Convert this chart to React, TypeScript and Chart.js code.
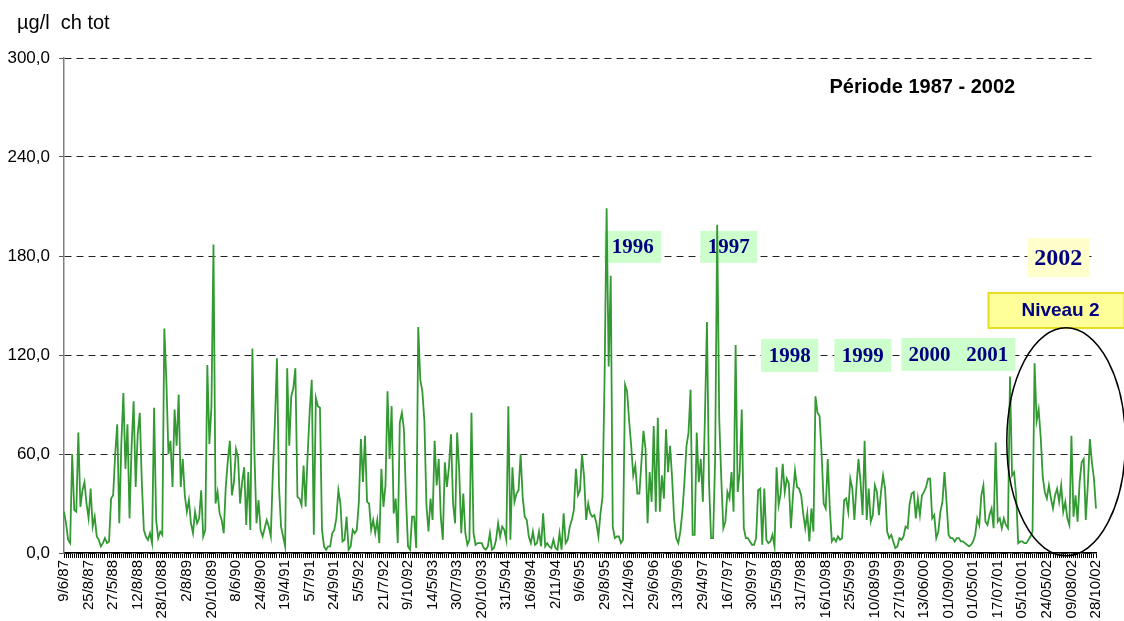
import React, { useEffect, useRef } from 'react';
import { Chart, registerables } from 'chart.js';

Chart.register(...registerables);

// Tick labels shown on the x axis (one every 12 samples)
const tickLabels = [
  '9/6/87', '25/8/87', '27/5/88', '12/8/88', '28/10/88', '2/8/89', '20/10/89', '8/6/90',
  '24/8/90', '19/4/91', '5/7/91', '24/9/91', '5/5/92', '21/7/92', '9/10/92', '14/5/93',
  '30/7/93', '20/10/93', '31/5/94', '16/8/94', '2/11/94', '9/6/95', '29/8/95', '12/4/96',
  '29/6/96', '13/9/96', '29/4/97', '16/7/97', '30/9/97', '15/5/98', '31/7/98', '16/10/98',
  '25/5/99', '10/08/99', '27/10/99', '13/06/00', '01/09/00', '01/05/01', '17/07/01', '05/10/01',
  '24/05/02', '09/08/02', '28/10/02',
];
const labelEvery = 12;

// Chlorophylle totale (µg/l), one value per sample
const concentration = [
  25, 18, 8, 6, 60, 26, 25, 73, 28, 38, 43, 30,
  21, 39, 16, 22, 10, 8, 4, 6, 9, 6, 7, 33,
  35, 60, 78, 18, 66, 97, 51, 78, 21, 64, 92, 40,
  72, 85, 43, 14, 10, 8, 12, 6, 88, 20, 9, 13,
  11, 136, 104, 60, 68, 40, 87, 65, 96, 40, 57, 35,
  25, 32, 18, 12, 25, 18, 21, 38, 10, 14, 114, 66,
  89, 187, 30, 37, 24, 20, 12, 40, 56, 68, 35, 43,
  63, 58, 30, 43, 52, 17, 49, 14, 124, 60, 18, 32,
  14, 10, 15, 20, 16, 10, 49, 79, 118, 40, 16, 10,
  4, 112, 65, 95, 100, 112, 34, 33, 29, 53, 28, 60,
  86, 105, 11, 94, 89, 88, 14, 4, 2, 4, 4, 12,
  14, 21, 38, 30, 7, 8, 22, 2, 4, 14, 12, 14,
  31, 69, 43, 71, 31, 30, 14, 20, 12, 20, 6, 51,
  28, 41, 98, 57, 89, 24, 33, 6, 79, 85, 75, 34,
  4, 2, 22, 22, 3, 137, 105, 98, 80, 29, 13, 33,
  20, 68, 41, 57, 22, 8, 55, 40, 52, 72, 30, 18,
  73, 50, 12, 36, 12, 5, 8, 85, 12, 5, 6, 6,
  6, 3, 2, 4, 12, 2, 3, 8, 18, 10, 16, 14,
  8, 89, 8, 52, 31, 36, 38, 60, 34, 22, 20, 10,
  6, 13, 5, 6, 13, 4, 24, 4, 6, 4, 3, 8,
  3, 2, 12, 2, 24, 6, 8, 16, 20, 26, 51, 35,
  38, 60, 46, 20, 30, 24, 22, 23, 18, 10, 24, 34,
  106, 209, 113, 168, 16, 9, 10, 10, 6, 8, 102, 98,
  80, 65, 47, 53, 36, 36, 55, 74, 63, 18, 49, 31,
  77, 25, 82, 25, 47, 33, 75, 49, 65, 45, 20, 9,
  6, 13, 25, 43, 65, 73, 99, 11, 11, 73, 43, 57,
  31, 82, 140, 43, 9, 9, 57, 199, 81, 45, 15, 19,
  37, 33, 49, 25, 126, 37, 49, 87, 15, 9, 9, 7,
  5, 5, 9, 38, 39, 5, 39, 8, 6, 7, 11, 4,
  52, 29, 36, 54, 37, 45, 42, 15, 35, 50, 40, 39,
  35, 24, 15, 24, 7, 27, 13, 95, 85, 83, 60, 30,
  27, 57, 27, 7, 9, 7, 10, 8, 9, 32, 33, 25,
  45, 39, 20, 40, 57, 43, 23, 68, 20, 39, 19, 23,
  41, 37, 23, 37, 47, 39, 13, 9, 11, 7, 3, 4,
  9, 8, 10, 16, 15, 30, 36, 37, 21, 33, 23, 35,
  37, 40, 45, 45, 21, 23, 9, 13, 25, 31, 49, 31,
  11, 9, 9, 7, 9, 9, 7, 7, 6, 5, 4, 5,
  7, 11, 21, 17, 35, 41, 19, 17, 23, 27, 15, 67,
  19, 21, 15, 21, 17, 15, 107, 47, 49, 35, 6, 7,
  7, 6, 6, 8, 10, 13, 115, 80, 87, 70, 46, 37,
  33, 41, 33, 27, 35, 39, 31, 41, 25, 31, 21, 17,
  71, 22, 35, 19, 43, 55, 57, 20, 41, 69, 55, 45,
  27,
];

const categories = concentration.map((_, i) =>
  i % labelEvery === 0 ? tickLabels[i / labelEvery] ?? '' : ''
);

// Y axis
const yMin = 0;
const yMax = 300;
const yStep = 60;

// Annotations anchored to data coordinates (sample index, value)
const yearBoxes = [
  { text: '1996', idx: 277.8, val: 185.5, w: 57, h: 32, fill: '#ccffcc', size: 21 },
  { text: '1997', idx: 324.7, val: 185.5, w: 57, h: 32, fill: '#ccffcc', size: 21 },
  { text: '1998', idx: 354.4, val: 119.7, w: 57, h: 33, fill: '#ccffcc', size: 21 },
  { text: '1999', idx: 390.1, val: 119.7, w: 57, h: 33, fill: '#ccffcc', size: 21 },
  { text: '2000   2001', idx: 436.8, val: 120.3, w: 114, h: 33, fill: '#ccffcc', size: 21 },
  { text: '2002', idx: 485.6, val: 179, w: 62, h: 39, fill: '#ffffcc', size: 24 },
];
const levelBox = { text: 'Niveau 2', idx: 484.7, val: 147, w: 136, h: 35 };
const ellipseNote = { idx: 489.4, val: 67.4, rx: 59.3, ry: 114 };
const periodNote = { text: 'Période 1987 - 2002', idx: 419.2, val: 282.4 };
const unitTitle = 'µg/l  ch tot';

const notesPlugin = {
  id: 'notes',
  beforeDatasetsDraw(chart: any) {
    const { ctx, scales } = chart;
    const x = scales.x;
    const y = scales.y;
    ctx.save();
    for (const b of yearBoxes) {
      const cx = x.getPixelForValue(b.idx);
      const cy = y.getPixelForValue(b.val);
      ctx.fillStyle = b.fill;
      ctx.fillRect(cx - b.w / 2, cy - b.h / 2, b.w, b.h);
      ctx.fillStyle = '#000080';
      ctx.font = `bold ${b.size}px "Liberation Serif", "Times New Roman", serif`;
      ctx.textAlign = 'center';
      ctx.textBaseline = 'middle';
      ctx.fillText(b.text, cx, cy + 1);
    }
    // Niveau 2
    const lx = x.getPixelForValue(levelBox.idx);
    const ly = y.getPixelForValue(levelBox.val);
    ctx.fillStyle = '#ffff99';
    ctx.fillRect(lx - levelBox.w / 2, ly - levelBox.h / 2, levelBox.w, levelBox.h);
    ctx.strokeStyle = '#e8dc20';
    ctx.lineWidth = 2;
    ctx.strokeRect(lx - levelBox.w / 2, ly - levelBox.h / 2, levelBox.w, levelBox.h);
    ctx.fillStyle = '#000080';
    ctx.font = 'bold 19px "Liberation Sans", Arial, sans-serif';
    ctx.textAlign = 'center';
    ctx.textBaseline = 'middle';
    ctx.fillText(levelBox.text, lx + 4, ly);
    ctx.restore();
  },
  afterDatasetsDraw(chart: any) {
    const { ctx, scales, chartArea } = chart;
    const x = scales.x;
    const y = scales.y;
    ctx.save();
    // Ellipse
    ctx.beginPath();
    ctx.ellipse(
      x.getPixelForValue(ellipseNote.idx),
      y.getPixelForValue(ellipseNote.val),
      ellipseNote.rx,
      ellipseNote.ry,
      0,
      0,
      Math.PI * 2
    );
    ctx.strokeStyle = '#000';
    ctx.lineWidth = 1.5;
    ctx.stroke();
    // Period
    ctx.fillStyle = '#000';
    ctx.font = 'bold 20px "Liberation Sans", Arial, sans-serif';
    ctx.textAlign = 'center';
    ctx.textBaseline = 'middle';
    ctx.fillText(periodNote.text, x.getPixelForValue(periodNote.idx), y.getPixelForValue(periodNote.val));
    // Unit title
    ctx.font = '20px "Liberation Sans", Arial, sans-serif';
    ctx.textAlign = 'left';
    ctx.textBaseline = 'middle';
    ctx.fillText(unitTitle, chartArea.left - 47, chartArea.top - 35);
    ctx.restore();
  },
};

export default function App() {
  const canvasRef = useRef<HTMLCanvasElement | null>(null);

  useEffect(() => {
    if (!canvasRef.current) return;
    Chart.defaults.font.family = '"Liberation Sans", Arial, sans-serif';
    Chart.defaults.color = '#000';
    const chart = new Chart(canvasRef.current, {
      type: 'line',
      data: {
        labels: categories,
        datasets: [
          {
            data: concentration,
            borderColor: '#339933',
            borderWidth: 1.8,
            pointRadius: 0,
            tension: 0,
            fill: false,
          },
        ],
      },
      options: {
        animation: false,
        responsive: false,
        events: [],
        layout: { padding: { top: 58, right: 28, left: 0, bottom: 0 } },
        plugins: {
          legend: { display: false },
          tooltip: { enabled: false },
          title: { display: false },
        },
        scales: {
          x: {
            type: 'category',
            offset: false,
            afterFit: (s: any) => {
              s.height = 68;
            },
            grid: {
              display: true,
              drawOnChartArea: false,
              drawTicks: true,
              tickLength: 5,
              color: '#000',
              lineWidth: 1,
            },
            border: { display: true, color: '#000', width: 1.5 },
            ticks: {
              autoSkip: false,
              minRotation: 90,
              maxRotation: 90,
              padding: 2,
              color: '#000',
              font: { size: 15 },
            },
          },
          y: {
            min: yMin,
            max: yMax,
            afterFit: (s: any) => {
              s.width = 64;
            },
            grid: {
              color: '#222',
              lineWidth: 1,
              drawTicks: true,
              tickLength: 5,
              tickColor: '#555',
              tickBorderDash: [],
            },
            border: { display: true, color: '#808080', width: 1.5, dash: [7, 5] },
            ticks: {
              stepSize: yStep,
              padding: 9,
              color: '#000',
              font: { size: 17 },
              callback: (v: any) => Number(v).toFixed(1).replace('.', ','),
            },
          },
        },
      },
      plugins: [notesPlugin],
    });
    return () => chart.destroy();
  }, []);

  return (
    <div style={{ position: 'absolute', left: 0, top: 0, width: 1124, height: 621, background: '#fff' }}>
      <canvas ref={canvasRef} width={1124} height={621} style={{ display: 'block' }} />
    </div>
  );
}
